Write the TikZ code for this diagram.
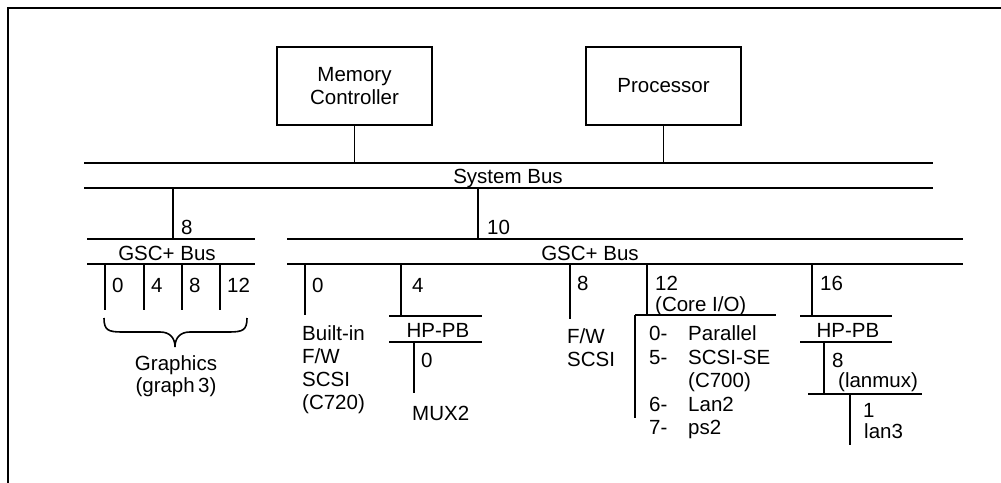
\documentclass[tikz,border=0pt]{standalone}
\usepackage{fontspec}
\setmainfont{Liberation Sans}
\begin{document}
\begin{tikzpicture}[x=1pt,y=-1pt,
  every node/.style={font=\fontsize{20.5}{22.5}\selectfont},
  box/.style={draw,line width=2.6pt,minimum width=155pt,minimum height=78pt,inner sep=0pt,align=center},
  busline/.style={line width=2.8pt},
  wire/.style={line width=1.6pt},
  lbl/.style={anchor=base west,inner sep=0pt},
  ctr/.style={anchor=base,inner sep=0pt}]
\useasboundingbox (0,0) rectangle (1001,482);
% frame
\draw[line width=2.6pt] (1005,8) -- (8,8) -- (8,486);
% boxes
\node[box] (mc) at (354.5,86) {Memory\\Controller};
\node[box] (proc) at (663.5,86) {Processor};
% system bus
\coordinate (sbTW) at (84,163); \coordinate (sbTE) at (933,163);
\coordinate (sbBW) at (84,188); \coordinate (sbBE) at (933,188);
\draw[busline] (sbTW) -- (sbTE);
\draw[busline] (sbBW) -- (sbBE);
\node[ctr] (sblbl) at (508,183) {System Bus};
\draw[wire] (mc.south) -- (mc.south |- sbTW);
\draw[wire] (proc.south) -- (proc.south |- sbTW);
% left GSC+ bus
\coordinate (lgTW) at (87,239); \coordinate (lgTE) at (255,239);
\coordinate (lgBW) at (87,264); \coordinate (lgBE) at (255,264);
\draw[busline] (lgTW) -- (lgTE);
\draw[busline] (lgBW) -- (lgBE);
\node[ctr] (lglbl) at (167,260) {GSC+ Bus};
\coordinate (lgin) at (173,239);
\draw[wire] (lgin |- sbBW) -- (lgin);
\node[lbl] (l8) at (181,234) {8};
% right GSC+ bus
\coordinate (rgTW) at (287,239); \coordinate (rgTE) at (963,239);
\coordinate (rgBW) at (287,264); \coordinate (rgBE) at (963,264);
\draw[busline] (rgTW) -- (rgTE);
\draw[busline] (rgBW) -- (rgBE);
\node[ctr] (rglbl) at (590,260) {GSC+ Bus};
\coordinate (rgin) at (478,239);
\draw[wire] (rgin |- sbBW) -- (rgin);
\node[lbl] (l10) at (487,234) {10};
% left drops
\foreach \x/\t [count=\i] in {105/0,144/4,182/8,220/12}{
  \coordinate (ld\i) at (\x,310);
  \draw[wire] (ld\i |- lgBW) -- (ld\i);
  \node[lbl] (ldl\i) at (\x+7,292) {\t};
}
% brace
\draw[line width=1.6pt] (104,318) .. controls (104,330) and (108,332) .. (122,332)
  -- (160,332) .. controls (170,332) and (175,338) .. (175,347)
  .. controls (175,338) and (180,332) .. (190,332) -- (229,332)
  .. controls (243,332) and (247,330) .. (247,318);
\node[ctr,align=center] (gfx) at (176,370) {Graphics};
\node[ctr] (gfx2) at (176,392) {(graph\,3)};
% drop 0: built-in SCSI
\coordinate (d0) at (305,315);
\draw[wire] (d0 |- rgBW) -- (d0);
\node[lbl] (d0l) at (312,292) {0};
\node[lbl] (bi1) at (302,340) {Built-in};
\node[lbl] (bi2) at (302,363) {F/W};
\node[lbl] (bi3) at (302,386) {SCSI};
\node[lbl] (bi4) at (302,409) {(C720)};
% drop 4: HP-PB
\coordinate (d4) at (401,316);
\draw[wire] (d4 |- rgBW) -- (d4);
\node[lbl] (d4l) at (412,292) {4};
\coordinate (hp1TW) at (389,316); \coordinate (hp1TE) at (482,316);
\coordinate (hp1BW) at (389,342); \coordinate (hp1BE) at (482,342);
\draw[busline] (hp1TW) -- (hp1TE);
\draw[busline] (hp1BW) -- (hp1BE);
\node[ctr] (hp1lbl) at (438,337) {HP-PB};
\coordinate (mx) at (414,393);
\draw[wire] (mx |- hp1BW) -- (mx);
\node[lbl] (mxl) at (421,367) {0};
\node[lbl] (mux) at (412,420) {MUX2};
% drop 8: F/W SCSI
\coordinate (d8) at (570,319);
\draw[wire] (d8 |- rgBW) -- (d8);
\node[lbl] (d8l) at (577,290) {8};
\node[lbl] (fw1) at (567,343) {F/W};
\node[lbl] (fw2) at (567,366) {SCSI};
% drop 12: Core I/O
\coordinate (d12) at (647,315);
\draw[wire] (d12 |- rgBW) -- (d12);
\node[lbl] (d12l) at (655,290) {12};
\node[lbl] (core) at (655,311) {(Core I/O)};
\coordinate (coW) at (635,315); \coordinate (coE) at (776,315);
\draw[wire] (coW) -- (coE);
\coordinate (coS) at (635,418);
\draw[wire] (coW) -- (coS);
\node[lbl] (c0a) at (649,340) {0-};   \node[lbl] (c0b) at (688,340) {Parallel};
\node[lbl] (c5a) at (649,364) {5-};   \node[lbl] (c5b) at (688,364) {SCSI-SE};
                                       \node[lbl] (c5c) at (688,387) {(C700)};
\node[lbl] (c6a) at (649,411) {6-};   \node[lbl] (c6b) at (688,411) {Lan2};
\node[lbl] (c7a) at (649,434) {7-};   \node[lbl] (c7b) at (688,434) {ps2};
% drop 16: HP-PB, lanmux
\coordinate (d16) at (812,316);
\draw[wire] (d16 |- rgBW) -- (d16);
\node[lbl] (d16l) at (820,290) {16};
\coordinate (hp2TW) at (800,316); \coordinate (hp2TE) at (892,316);
\coordinate (hp2BW) at (800,342); \coordinate (hp2BE) at (892,342);
\draw[busline] (hp2TW) -- (hp2TE);
\draw[busline] (hp2BW) -- (hp2BE);
\node[ctr] (hp2lbl) at (848,337) {HP-PB};
\coordinate (lm) at (824,394);
\draw[wire] (lm |- hp2BW) -- (lm);
\node[lbl] (lml1) at (832,367) {8};
\node[lbl] (lml2) at (838,387) {(lanmux)};
\coordinate (lmW) at (808,394); \coordinate (lmE) at (922,394);
\draw[wire] (lmW) -- (lmE);
\coordinate (l3) at (850,445);
\draw[wire] (l3 |- lmW) -- (l3);
\node[lbl] (l3a) at (863,417) {1};
\node[lbl] (l3b) at (864,438) {lan3};
\end{tikzpicture}
\end{document}
